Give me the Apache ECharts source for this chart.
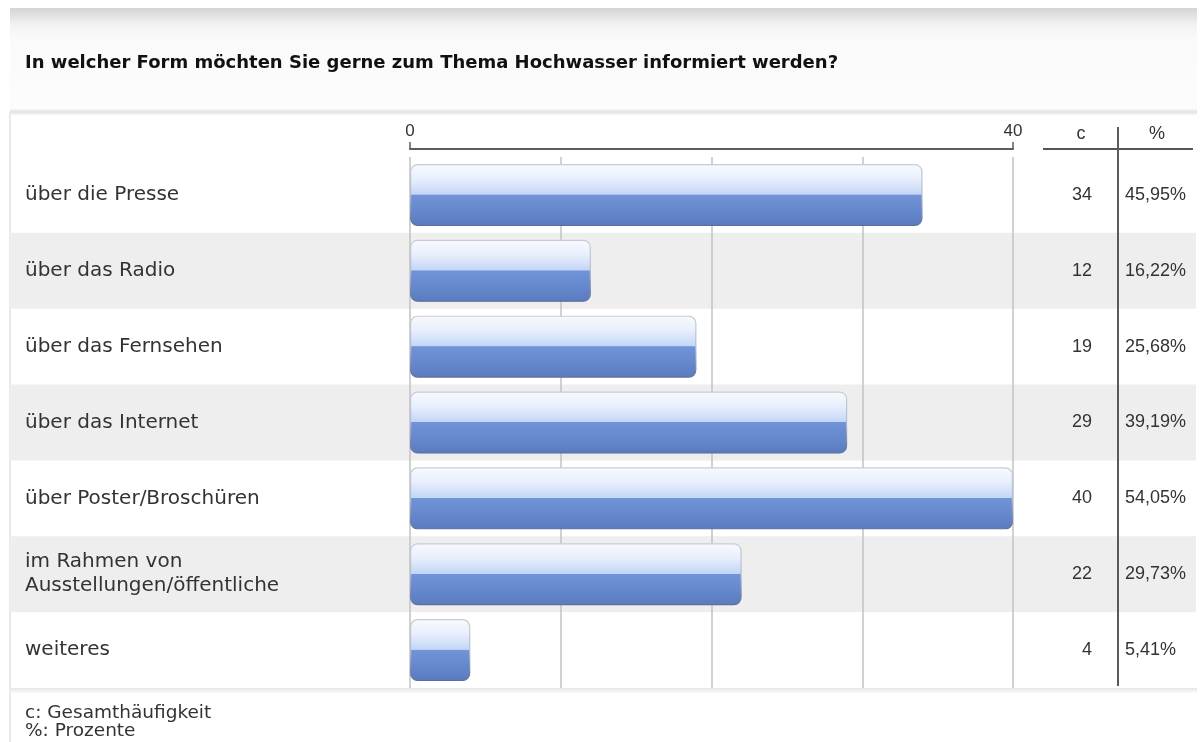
<!DOCTYPE html>
<html>
<head>
<meta charset="utf-8">
<script src="https://cdn.jsdelivr.net/npm/echarts@6/dist/echarts.min.js"></script>
<style>
  html, body { margin: 0; padding: 0; background: #ffffff; }
  #chart { width: 1200px; height: 742px; }
</style>
</head>
<body>
<div id="chart"></div>
<script>
// Survey answers: how people want to be informed about floods
const categories = [
  'über die Presse',
  'über das Radio',
  'über das Fernsehen',
  'über das Internet',
  'über Poster/Broschüren',
  'im Rahmen von\nAusstellungen/öffentliche',
  'weiteres'
];
const counts = [34, 12, 19, 29, 40, 22, 4];
const percents = ['45,95%', '16,22%', '25,68%', '39,19%', '54,05%', '29,73%', '5,41%'];
const axisMin = 0;
const axisMax = 40;

const titleText = 'In welcher Form möchten Sie gerne zum Thema Hochwasser informiert werden?';
const footerLines = ['c: Gesamthäufigkeit', '%: Prozente'];

const LABEL_FONT = '"DejaVu Sans", sans-serif';
const NUM_FONT = '"Liberation Sans", Arial, sans-serif';

const chart = echarts.init(document.getElementById('chart'), null, { renderer: 'canvas' });

const barFill = new echarts.graphic.LinearGradient(0, 0, 0, 1, [
  { offset: 0, color: '#f8fafe' },
  { offset: 0.25, color: '#e7eefc' },
  { offset: 0.49, color: '#c3d6f7' },
  { offset: 0.5, color: '#7194d9' },
  { offset: 1, color: '#5a7bbf' }
]);
const barStroke = new echarts.graphic.LinearGradient(0, 0, 0, 1, [
  { offset: 0, color: '#c9ccd4' },
  { offset: 0.5, color: '#b4bccd' },
  { offset: 1, color: '#5a6d9e' }
]);

const option = {
  animation: false,
  backgroundColor: '#ffffff',
  grid: [
    { left: 10, right: 4, top: 157, height: 531 },
    { left: 410, width: 603, top: 157, height: 531 }
  ],
  xAxis: [
    { gridIndex: 0, type: 'value', show: false },
    {
      gridIndex: 1, type: 'value', position: 'top', offset: 8,
      min: axisMin, max: axisMax, interval: axisMax - axisMin,
      axisLine: { show: true, lineStyle: { color: '#5c5c5c', width: 2 } },
      axisTick: { show: true, length: 7, lineStyle: { color: '#5c5c5c', width: 1.5 } },
      axisLabel: { fontFamily: NUM_FONT, fontSize: 17, color: '#333', margin: 9 },
      splitLine: { show: false },
      z: 3
    },
    {
      gridIndex: 1, type: 'value', position: 'top',
      min: axisMin, max: axisMax, interval: 10,
      axisLine: { show: false }, axisTick: { show: false }, axisLabel: { show: false },
      splitLine: { show: true, lineStyle: { color: '#c2c2c2', width: 1.5 } },
      z: 1
    }
  ],
  yAxis: [
    {
      gridIndex: 0, type: 'category', inverse: true, data: categories,
      axisLine: { show: false }, axisTick: { show: false }, axisLabel: { show: false },
      splitArea: { show: true, areaStyle: { color: ['rgba(255,255,255,0)', '#eeeeee'] } },
      z: 0
    },
    {
      gridIndex: 1, type: 'category', inverse: true, data: categories,
      axisLine: { show: false }, axisTick: { show: false },
      axisLabel: {
        align: 'left', margin: 385, fontFamily: LABEL_FONT, fontSize: 20,
        color: '#333', lineHeight: 24
      },
      z: 3
    },
    {
      gridIndex: 1, type: 'category', inverse: true, position: 'right', data: counts,
      axisLine: { show: false }, axisTick: { show: false },
      axisLabel: { align: 'right', margin: 79, fontFamily: NUM_FONT, fontSize: 18, color: '#333' },
      z: 3
    },
    {
      gridIndex: 1, type: 'category', inverse: true, position: 'right', data: percents,
      axisLine: { show: false }, axisTick: { show: false },
      axisLabel: { align: 'left', margin: 112, fontFamily: NUM_FONT, fontSize: 18, color: '#333' },
      z: 3
    }
  ],
  series: [
    {
      type: 'bar',
      xAxisIndex: 1,
      yAxisIndex: 1,
      data: counts,
      barWidth: 62,
      z: 4,
      itemStyle: {
        color: barFill,
        borderColor: barStroke,
        borderWidth: 1.2,
        borderRadius: 7
      }
    }
  ],
  graphic: [
    // header panel with its soft top shading
    {
      type: 'rect', z: -10, silent: true,
      shape: { x: 10, y: 8, width: 1187, height: 104 },
      style: {
        fill: new echarts.graphic.LinearGradient(0, 0, 0, 1, [
          { offset: 0, color: '#d4d4d4' },
          { offset: 0.16, color: '#f2f2f2' },
          { offset: 0.3, color: '#fafafa' },
          { offset: 1, color: '#fcfcfc' }
        ])
      }
    },
    {
      type: 'rect', z: -9, silent: true,
      shape: { x: 10, y: 109, width: 1187, height: 6 },
      style: {
        fill: new echarts.graphic.LinearGradient(0, 0, 0, 1, [
          { offset: 0, color: '#f6f6f6' },
          { offset: 0.5, color: '#e3e3e3' },
          { offset: 1, color: '#f7f7f7' }
        ])
      }
    },
    // left frame edge
    {
      type: 'rect', z: -9, silent: true,
      shape: { x: 9, y: 112, width: 2, height: 630 },
      style: { fill: '#e9e9e9' }
    },
    // bottom separator under the rows
    {
      type: 'rect', z: -9, silent: true,
      shape: { x: 10, y: 688, width: 1187, height: 5 },
      style: {
        fill: new echarts.graphic.LinearGradient(0, 0, 0, 1, [
          { offset: 0, color: '#e6e6e6' },
          { offset: 1, color: '#fbfbfb' }
        ])
      }
    },
    {
      type: 'text', silent: true,
      style: {
        text: titleText, x: 25, y: 63, verticalAlign: 'middle',
        fontFamily: LABEL_FONT, fontWeight: 'bold', fontSize: 18, fill: '#111'
      }
    },
    // count / percent column header
    {
      type: 'text', silent: true, z: 100,
      style: { text: 'c', x: 1081, y: 134, align: 'center', verticalAlign: 'middle',
        fontFamily: NUM_FONT, fontSize: 18, fill: '#333' }
    },
    {
      type: 'text', silent: true, z: 100,
      style: { text: '%', x: 1157, y: 134, align: 'center', verticalAlign: 'middle',
        fontFamily: NUM_FONT, fontSize: 18, fill: '#333' }
    },
    {
      type: 'line', silent: true, z: 100,
      shape: { x1: 1043, y1: 149, x2: 1193, y2: 149 },
      style: { stroke: '#555', lineWidth: 2 }
    },
    {
      type: 'line', silent: true, z: 100,
      shape: { x1: 1118, y1: 127, x2: 1118, y2: 686 },
      style: { stroke: '#5a5a5a', lineWidth: 2 }
    },
    // legend of the column abbreviations
    {
      type: 'text', silent: true,
      style: { text: footerLines[0], x: 25, y: 713, verticalAlign: 'middle',
        fontFamily: LABEL_FONT, fontSize: 18.5, fill: '#333' }
    },
    {
      type: 'text', silent: true,
      style: { text: footerLines[1], x: 25, y: 731, verticalAlign: 'middle',
        fontFamily: LABEL_FONT, fontSize: 18.5, fill: '#333' }
    }
  ]
};

chart.setOption(option);
</script>
</body>
</html>
